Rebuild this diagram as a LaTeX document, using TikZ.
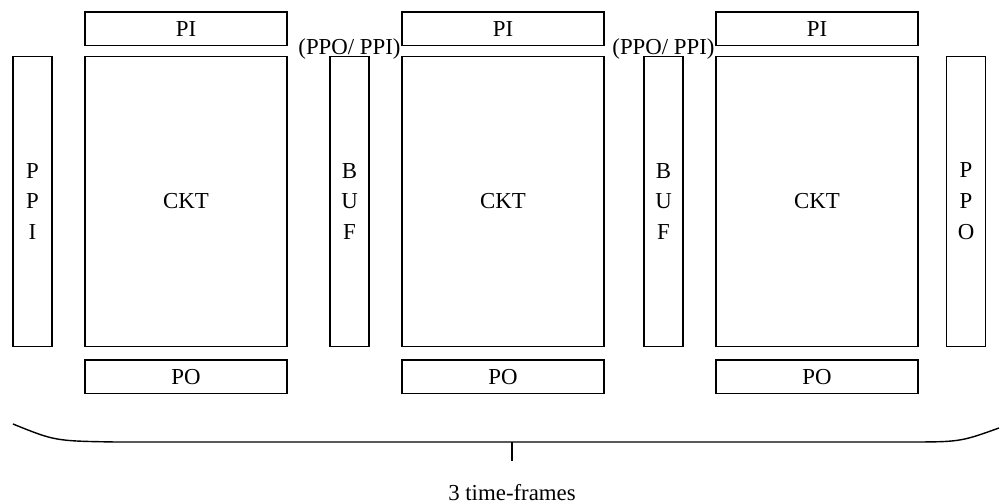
\documentclass[tikz,border=0pt]{standalone}
\usepackage{fontspec}
\setmainfont{Liberation Serif}
\usetikzlibrary{positioning}

\tikzset{
  blk/.style={draw, line width=0.8pt, inner sep=0pt, font=\fontsize{13}{17.6}\selectfont},
  ckt/.style={blk, minimum width=4.04cm, minimum height=5.8cm},
  bar/.style={blk, minimum width=0.78cm, minimum height=5.8cm, align=center},
  port/.style={blk, minimum width=4.04cm, minimum height=0.67cm},
  lbl/.style={inner sep=0pt, font=\fontsize{13}{17}\selectfont},
}

\begin{document}
\begin{tikzpicture}
    \useasboundingbox (0,0) rectangle (20,10.08);

    % One circuit copy per time-frame, with its inputs and outputs
    \foreach \i/\x in {1/3.72, 2/10.06, 3/16.34} {
        \node[ckt] (ckt\i) at (\x,6.05) {CKT};
        \node[port, above=0.19cm of ckt\i] (pi\i) {PI};
        \node[port, below=0.24cm of ckt\i] (po\i) {PO};
    }

    % Pseudo inputs / outputs and buffers between frames
    \node[bar] (ppi) at (0.65,6.05) {P\\P\\I};
    \node[bar] (buf1) at (6.99,6.05) {B\\U\\F};
    \node[bar] (buf2) at (13.27,6.05) {B\\U\\F};
    \node[bar] (ppo) at (19.32,6.05) {P\\P\\O};

    \node[lbl, above=-0.07cm of buf1] (bl1) {(PPO/ PPI)};
    \node[lbl, above=-0.07cm of buf2] (bl2) {(PPO/ PPI)};

    % Brace spanning all frames
    \coordinate (brl) at (0.26,1.60);
    \coordinate (brr) at (19.98,1.52);
    \coordinate (brm) at (10.24,1.24);
    \draw[line width=0.8pt] (brl) .. controls (1.1,1.26) .. (2.3,1.24) -- (18.1,1.24)
        .. controls (19.2,1.24) .. (brr);
    \node[lbl] (frames) at (10.24,0.22) {3 time-frames};
    \coordinate (tick) at (10.24,0.85);
    \draw[line width=0.8pt] (brm) -- (tick);
\end{tikzpicture}
\end{document}
